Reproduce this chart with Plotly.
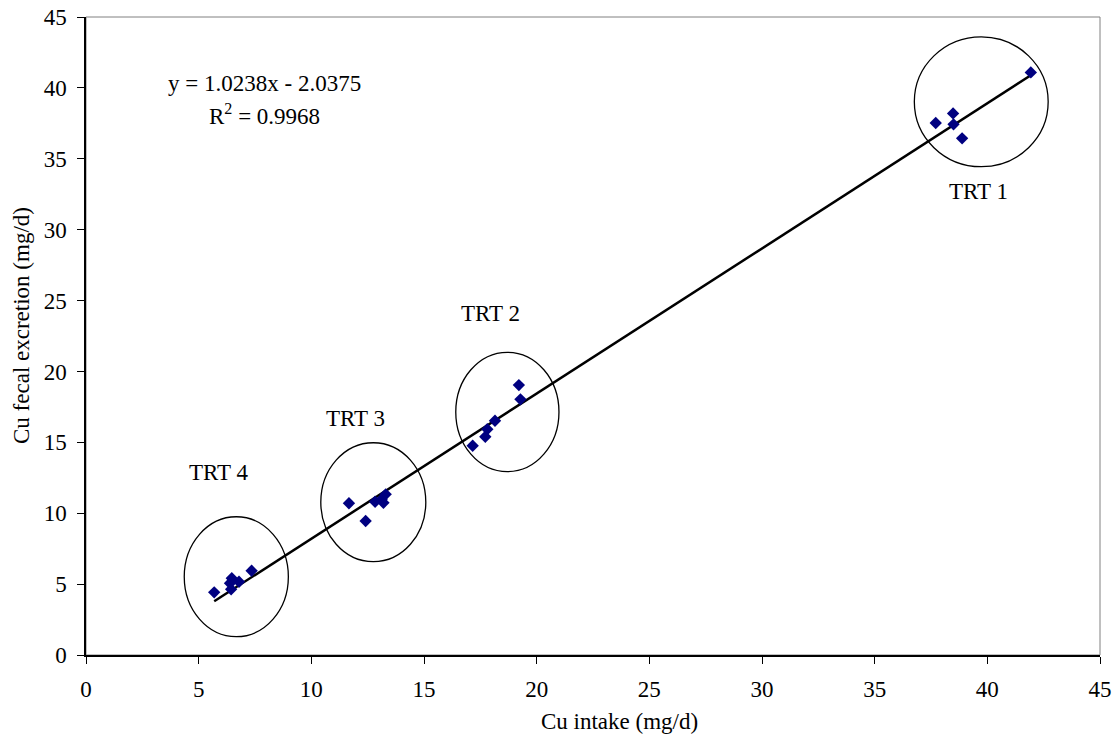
import plotly.graph_objects as go

# ---- data ----
cu_intake = [5.69, 6.47, 6.39, 6.44, 6.79, 7.35,
             11.67, 12.41, 12.83, 13.30, 13.20, 13.12,
             17.16, 17.72, 17.81, 18.15, 19.21, 19.28,
             37.71, 38.48, 38.50, 38.88, 41.93]
cu_fecal = [4.42, 5.41, 5.06, 4.63, 5.17, 5.94,
            10.70, 9.45, 10.81, 11.33, 10.74, 10.98,
            14.76, 15.39, 15.92, 16.52, 19.04, 18.03,
            37.52, 38.20, 37.43, 36.44, 41.09]

slope = 1.0238
intercept = -2.0375
r_squared = 0.9968

x_ticks = [0, 5, 10, 15, 20, 25, 30, 35, 40, 45]
y_ticks = [0, 5, 10, 15, 20, 25, 30, 35, 40, 45]

group_labels = ["TRT 1", "TRT 2", "TRT 3", "TRT 4"]
label_x = [39.59, 17.93, 11.94, 5.90]
label_y = [32.72, 24.12, 16.71, 12.90]
ellipse_x0 = [36.76, 16.41, 10.42, 4.36]
ellipse_x1 = [42.70, 20.99, 15.08, 8.98]
ellipse_y0 = [34.44, 12.93, 6.58, 1.29]
ellipse_y1 = [43.60, 21.35, 14.97, 9.75]

FONT = "Liberation Serif, Times New Roman, serif"
FS = 23

fig = go.Figure()

# trendline over data range
x_min, x_max = min(cu_intake), max(cu_intake)
fig.add_trace(go.Scatter(
    x=[x_min, x_max],
    y=[slope * x_min + intercept, slope * x_max + intercept],
    mode="lines", line=dict(color="black", width=2.5),
    hoverinfo="skip", showlegend=False))

fig.add_trace(go.Scatter(
    x=cu_intake, y=cu_fecal, mode="markers",
    marker=dict(symbol="diamond", size=9.5, color="#000080",
                line=dict(width=0)),
    showlegend=False))

shapes = [dict(type="rect", xref="x domain", yref="y domain",
               x0=0, x1=1, y0=0, y1=1,
               line=dict(color="#808080", width=1), layer="below")]
for x0, x1, y0, y1 in zip(ellipse_x0, ellipse_x1, ellipse_y0, ellipse_y1):
    shapes.append(dict(type="circle", xref="x", yref="y",
                       x0=x0, x1=x1, y0=y0, y1=y1,
                       line=dict(color="black", width=1.3), layer="above"))

annotations = []
for t, lx, ly in zip(group_labels, label_x, label_y):
    annotations.append(dict(x=lx, y=ly, xref="x", yref="y", text=t,
                            showarrow=False, font=dict(family=FONT, size=FS, color="black")))
annotations.append(dict(x=7.94, y=40.34, xref="x", yref="y",
                        text=f"y = {slope}x - {abs(intercept)}",
                        showarrow=False, font=dict(family=FONT, size=FS, color="black")))
annotations.append(dict(x=7.94, y=38.15, xref="x", yref="y",
                        text=f"R<sup>2</sup> = {r_squared}",
                        showarrow=False, font=dict(family=FONT, size=FS, color="black")))
# axis titles
annotations.append(dict(x=0.5266, y=-0.105, xref="paper", yref="paper",
                        text="Cu intake (mg/d)", showarrow=False,
                        xanchor="center", yanchor="middle",
                        font=dict(family=FONT, size=FS, color="black")))
annotations.append(dict(x=-0.0631, y=0.5157, xref="paper", yref="paper",
                        text="Cu fecal excretion (mg/d)", showarrow=False,
                        textangle=-90, xanchor="center", yanchor="middle",
                        font=dict(family=FONT, size=FS, color="black")))

fig.update_layout(
    width=1115, height=745,
    margin=dict(l=86, r=15, t=17, b=90, autoexpand=False),
    paper_bgcolor="white", plot_bgcolor="white",
    font=dict(family=FONT, size=FS, color="black"),
    shapes=shapes, annotations=annotations,
    xaxis=dict(range=[0, 45], tickvals=x_ticks, ticktext=[str(v) for v in x_ticks],
               showgrid=False, zeroline=False, showline=True, linecolor="black",
               linewidth=1.5, ticks="outside", ticklen=7, tickcolor="black",
               ticklabelstandoff=6, automargin=False,
               tickfont=dict(family=FONT, size=FS)),
    yaxis=dict(range=[0, 45], tickvals=y_ticks, ticktext=[str(v) for v in y_ticks],
               showgrid=False, zeroline=False, showline=True, linecolor="black",
               linewidth=1.5, ticks="outside", ticklen=7, tickcolor="black",
               ticklabelstandoff=6, automargin=False,
               tickfont=dict(family=FONT, size=FS)),
)

fig.write_html("out.html")
